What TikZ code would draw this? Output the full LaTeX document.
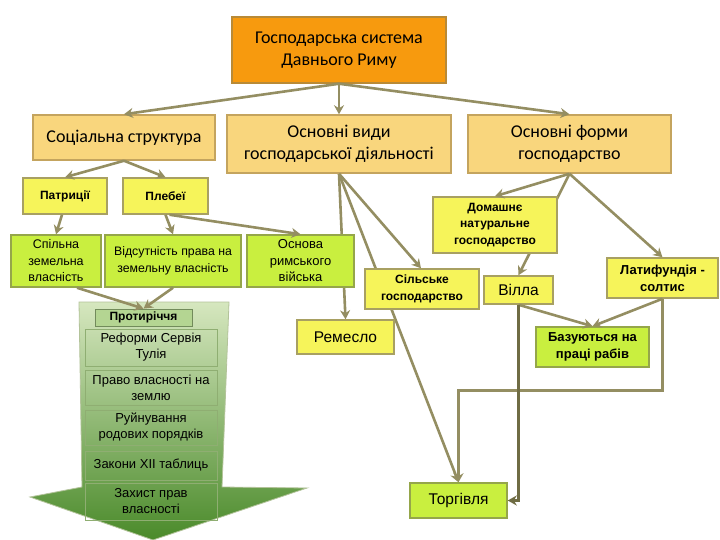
\documentclass[tikz,border=0pt]{standalone}
\usepackage{fontspec}
\setmainfont{Carlito}
\newfontfamily\arialfont{Liberation Sans}
\usepackage{tikz}
\usetikzlibrary{arrows.meta,calc}
\usepackage{xcolor}
\definecolor{topfill}{HTML}{F79A0E}
\definecolor{topborder}{HTML}{B98A36}
\definecolor{headfill}{HTML}{F9D67D}
\definecolor{headborder}{HTML}{C4A45E}
\definecolor{yelfill}{HTML}{F6F45A}
\definecolor{yelborder}{HTML}{A8A062}
\definecolor{limefill}{HTML}{C9EF3F}
\definecolor{limeborder}{HTML}{95A64A}
\definecolor{linkcol}{HTML}{948E62}
\definecolor{linkdark}{HTML}{6F6C44}
\definecolor{greentop}{HTML}{D6E7BF}
\definecolor{greenbottom}{HTML}{4A8A2A}
\definecolor{greenedge}{HTML}{B3C39A}
\definecolor{innerborder}{HTML}{8FAE72}
\definecolor{protyrfill}{HTML}{B4D592}
\pgfdeclarelayer{back}
\pgfdeclarelayer{wires}
\pgfsetlayers{back,wires,main}

\begin{document}
\begin{tikzpicture}[
  x=1pt, y=-1pt,
  >={Stealth[length=9pt,width=10pt]},
  topbox/.style={
    draw=topborder,
    fill=topfill,
    line width=1.5pt,
    inner sep=0pt,
    align=center,
    font=\fontsize{18}{22}\selectfont
  },
  headbox/.style={
    draw=headborder,
    fill=headfill,
    line width=1.5pt,
    inner sep=0pt,
    align=center,
    font=\fontsize{18}{22}\selectfont
  },
  yelbox/.style={
    draw=yelborder,
    fill=yelfill,
    line width=1.5pt,
    inner sep=0pt,
    align=center,
    font=\arialfont\bfseries\fontsize{12}{16.5}\selectfont
  },
  limebox/.style={
    draw=limeborder,
    fill=limefill,
    line width=1.5pt,
    inner sep=0pt,
    align=center,
    font=\arialfont\fontsize{12.5}{16.5}\selectfont
  },
  innerbox/.style={
    draw=innerborder,
    line width=0.8pt,
    inner sep=0pt,
    minimum width=132pt,
    align=center,
    font=\arialfont\fontsize{13}{16}\selectfont
  },
  link/.style={->, draw=linkcol, line width=2.6pt},
  darklink/.style={->, draw=linkdark, line width=2.6pt}
]

  \begin{pgfonlayer}{back}
    \fill[white] (0,0) rectangle (720,540);
  \end{pgfonlayer}
  \useasboundingbox (0,0) rectangle (720,540);

  % --- big green arrow on the left ---
  \path[draw=greenedge, line width=0.8pt, top color=greentop, bottom color=greenbottom]
    (79,302) -- (229,302) -- (222,487) -- (307,488) -- (153,540) -- (30,497) -- (82,487) -- cycle;

  % --- top level ---
  \node[topbox, minimum width=214pt, minimum height=66pt] (system) at (339,50) {Господарська система\\Давнього Риму};

  \node[headbox, minimum width=182pt, minimum height=45pt] (social) at (124,137.5) {Соціальна структура};
  \node[headbox, minimum width=224pt, minimum height=58pt] (activity) at (339,144) {Основні види\\господарської діяльності};
  \node[headbox, minimum width=203pt, minimum height=58pt] (forms) at (569.5,144) {Основні форми\\господарство};

  % --- social structure ---
  \node[yelbox, minimum width=84pt, minimum height=36pt] (patricians) at (65,196) {Патриції};
  \node[yelbox, minimum width=85pt, minimum height=36pt] (plebeians) at (165.5,196) {Плебеї};

  \node[limebox, minimum width=90pt, minimum height=52pt] (commonland) at (56,261) {Спільна\\земельна\\власність};
  \node[limebox, minimum width=136pt, minimum height=52pt, font=\arialfont\fontsize{12.3}{16.5}\selectfont] (noright) at (173,261) {Відсутність права на\\земельну власність};
  \node[limebox, minimum width=107pt, minimum height=52pt, font=\arialfont\fontsize{13}{16.5}\selectfont] (army) at (300.5,261) {Основа\\римського\\війська};

  % --- inside the green arrow ---
  \node[innerbox, draw=innerborder!80!black, fill=protyrfill, minimum width=97pt, minimum height=17pt, font=\arialfont\bfseries\fontsize{12}{14}\selectfont] (conflict) at (143.5,317.5) {Протиріччя};
  \node[innerbox, minimum height=37pt] (reforms) at (151,347.5) {Реформи Сервія\\Тулія};
  \node[innerbox, minimum height=35pt] (landright) at (151,387.5) {Право власності на\\землю};
  \node[innerbox, minimum height=35pt] (clanorder) at (151,427.5) {Руйнування\\родових порядків};
  \node[innerbox, minimum height=29pt] (twelvelaws) at (151,465.5) {Закони XII таблиць};
  \node[innerbox, minimum height=37pt] (protection) at (151,501.5) {Захист прав\\власності};

  % --- kinds of activity ---
  \node[yelbox, minimum width=114pt, minimum height=40pt] (farming) at (422,289) {Сільське\\господарство};
  \node[yelbox, minimum width=97pt, minimum height=34pt, font=\arialfont\fontsize{15.5}{18}\selectfont] (craft) at (345.5,337) {Ремесло};
  \node[limebox, minimum width=97pt, minimum height=35pt, font=\arialfont\fontsize{15.5}{18}\selectfont] (trade) at (458.5,500.5) {Торгівля};

  % --- forms of economy ---
  \node[yelbox, minimum width=124pt, minimum height=56pt] (household) at (495,225) {Домашнє\\натуральне\\господарство};
  \node[yelbox, minimum width=69pt, minimum height=28pt, font=\arialfont\fontsize{15.5}{18}\selectfont] (villa) at (518.5,290) {Вілла};
  \node[yelbox, minimum width=111pt, minimum height=40pt, font=\arialfont\bfseries\fontsize{13}{17}\selectfont] (latifundia) at (662.5,278) {Латифундія -\\солтис};
  \node[limebox, minimum width=113pt, minimum height=40pt, font=\arialfont\bfseries\fontsize{13}{17}\selectfont] (slavery) at (592.5,347) {Базуються на\\праці рабів};

  % --- connectors running behind boxes ---
  \begin{pgfonlayer}{wires}
    \draw[link] (activity.south) -- (craft.north);
    \draw[link] (activity.south) -- (trade.north);
    \draw[link] (forms.south) -- (villa.north);
  \end{pgfonlayer}

  % --- connectors ---
  \draw[link] (system.south) -- (social.north);
  \draw[link] (system.south) -- (activity.north);
  \draw[link] (system.south) -- (forms.north);

  \draw[link] (social.south) -- (patricians.north);
  \draw[link] (social.south) -- (plebeians.north);
  \draw[link] ([xshift=-3pt]patricians.south) -- (commonland.north);
  \draw[link] (plebeians.south) -- (noright.north);
  \draw[link] ([xshift=4pt]plebeians.south) -- (army.north);
  \draw[link] ([xshift=21pt]commonland.south) -- (conflict.north);
  \draw[link] (noright.south) -- (conflict.north);

  \draw[link] (activity.south) -- ([xshift=-1pt]farming.north);

  \draw[link] (forms.south) -- (household.north);
  \draw[link] (forms.south) -- (latifundia.north);
  \draw[link] (villa.south) -- (slavery.north);
  \draw[link] (latifundia.south) -- (slavery.north);
  \draw[link] (latifundia.south) -- ++(0,92) -| (trade.north);
  \draw[darklink] (villa.south) |- (trade.east);

\end{tikzpicture}
\end{document}
